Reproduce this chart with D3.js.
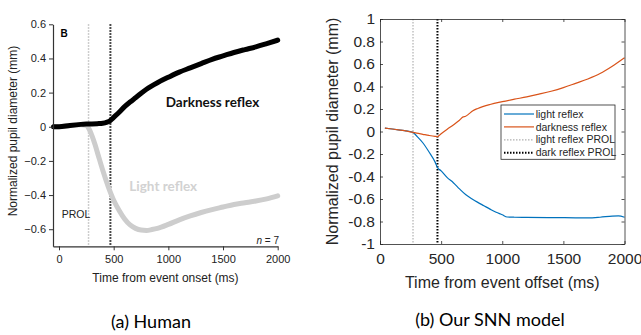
<!DOCTYPE html>
<html lang="en">
<head>
  <meta charset="utf-8">
  <title>Pupil reflex: human vs SNN</title>
  <script src="https://cdn.jsdelivr.net/npm/d3@7"></script>
  <style>
    body { margin: 0; background: #fff; }
  </style>
</head>
<body>
  <script>
    // PROL markers (ms)
    let lightProl = 270, darkProl = 470;

    // (a) human recordings
    let humanDarkTime = [-50, 0, 100, 200, 270, 350, 400, 440, 470, 500, 550, 600, 650, 700, 800, 900, 1000, 1100, 1200, 1300, 1400, 1500, 1600, 1700, 1800, 1900, 2000];
    let humanDarkVals = [0, 0, 0.008, 0.014, 0.016, 0.018, 0.02, 0.027, 0.037, 0.055, 0.085, 0.118, 0.145, 0.17, 0.22, 0.258, 0.29, 0.32, 0.345, 0.37, 0.395, 0.415, 0.435, 0.452, 0.468, 0.487, 0.507];
    let humanLightTime = [-50, 0, 100, 200, 250, 280, 300, 330, 360, 400, 450, 500, 550, 600, 650, 700, 750, 800, 850, 900, 1000, 1100, 1200, 1300, 1400, 1500, 1600, 1700, 1800, 1900, 2000];
    let humanLightVals = [0, 0, 0.008, 0.012, 0.008, -0.02, -0.05, -0.105, -0.17, -0.255, -0.35, -0.43, -0.49, -0.54, -0.575, -0.595, -0.605, -0.607, -0.602, -0.595, -0.572, -0.545, -0.522, -0.502, -0.485, -0.47, -0.455, -0.445, -0.435, -0.422, -0.405];

    // (b) SNN model
    let modelDarkTime = [40, 100, 150, 200, 270, 300, 350, 400, 450, 470, 500, 550, 600, 650, 680, 700, 720, 760, 800, 900, 1000, 1100, 1200, 1300, 1400, 1500, 1600, 1700, 1800, 1900, 2000];
    let modelDarkVals = [0.03, 0.022, 0.015, 0.008, -0.008, -0.015, -0.025, -0.035, -0.043, -0.045, -0.02, 0.02, 0.058, 0.1, 0.13, 0.135, 0.15, 0.185, 0.205, 0.24, 0.265, 0.287, 0.308, 0.332, 0.358, 0.39, 0.428, 0.467, 0.515, 0.58, 0.655];
    let modelLightTime = [40, 100, 150, 200, 270, 300, 350, 400, 450, 470, 500, 550, 600, 650, 700, 750, 800, 850, 900, 950, 1000, 1040, 1100, 1200, 1400, 1600, 1700, 1800, 1900, 1950, 2000];
    let modelLightVals = [0.03, 0.022, 0.015, 0.008, -0.008, -0.04, -0.1, -0.18, -0.27, -0.32, -0.35, -0.41, -0.455, -0.51, -0.56, -0.597, -0.63, -0.66, -0.69, -0.718, -0.74, -0.76, -0.762, -0.763, -0.765, -0.767, -0.768, -0.762, -0.752, -0.75, -0.762];

    let humanYTicks = [-0.6, -0.4, -0.2, 0, 0.2, 0.4, 0.6];
    let humanXTicks = [0, 500, 1000, 1500, 2000];
    let modelYTicks = [-1, -0.8, -0.6, -0.4, -0.2, 0, 0.2, 0.4, 0.6, 0.8, 1];
    let modelXTicks = [0, 500, 1000, 1500, 2000];
    let legendLabels = ["light reflex", "darkness reflex", "light reflex PROL", "dark reflex PROL"];

    let zip = (ts, vs) => ts.map((t, i) => ({ t: t, v: vs[i] }));

    let svg = d3.select("body").append("svg")
      .attr("width", 641).attr("height", 335)
      .style("font-family", "'Liberation Sans', Arial, sans-serif");

    // ---------- (a) Human ----------
    let xL = d3.scaleLinear().domain([-55, 2000]).range([53, 277.7]);
    let yL = d3.scaleLinear().domain([-0.7, 0.6]).range([246.3, 24.3]);
    let gA = svg.append("g");

    // PROL lines
    gA.append("line")
      .attr("x1", xL(lightProl)).attr("x2", xL(lightProl))
      .attr("y1", yL(0.6)).attr("y2", yL(-0.7))
      .attr("stroke", "#bdbdbd").attr("stroke-width", 1.5).attr("stroke-dasharray", "1.5,1.5");
    gA.append("line")
      .attr("x1", xL(darkProl)).attr("x2", xL(darkProl))
      .attr("y1", yL(0.6)).attr("y2", yL(-0.7))
      .attr("stroke", "#111").attr("stroke-width", 2).attr("stroke-dasharray", "1.5,1.5");

    let lineL = d3.line().x(d => xL(d.t)).y(d => yL(d.v)).curve(d3.curveMonotoneX);
    gA.append("path").datum(zip(humanLightTime, humanLightVals))
      .attr("d", lineL).attr("fill", "none")
      .attr("stroke", "#cdcdcd").attr("stroke-width", 5).attr("stroke-linecap", "round");
    gA.append("path").datum(zip(humanDarkTime, humanDarkVals))
      .attr("d", lineL).attr("fill", "none")
      .attr("stroke", "#000").attr("stroke-width", 5).attr("stroke-linecap", "round");

    // axes
    let fmtL = d => d === 0 ? "0" : d3.format(".1f")(d);
    gA.append("g").attr("transform", `translate(${xL.range()[0]},0)`)
      .call(d3.axisLeft(yL).tickValues(humanYTicks).tickFormat(fmtL).tickSize(4).tickSizeOuter(0).tickPadding(3));
    gA.append("g").attr("transform", `translate(0,${yL.range()[0]})`)
      .call(d3.axisBottom(xL).tickValues(humanXTicks).tickFormat(d3.format("d")).tickSize(4).tickSizeOuter(0).tickPadding(5));
    gA.selectAll(".tick text").style("font-size", "11px").attr("fill", "#222");
    gA.selectAll(".domain, .tick line").attr("stroke", "#333");
    gA.selectAll(".domain").attr("stroke-width", 1.2);

    gA.append("text").text("Time from event onset (ms)")
      .attr("x", 165.5).attr("y", 281.5).attr("text-anchor", "middle")
      .style("font-size", "12px").attr("fill", "#222");
    gA.append("text").text("Normalized pupil diameter (mm)")
      .attr("transform", `translate(13, 131) rotate(-90)`)
      .attr("text-anchor", "middle").attr("dominant-baseline", "central")
      .style("font-size", "12px").attr("fill", "#222");

    gA.append("text").text("B").attr("x", 60.5).attr("y", 36.7)
      .style("font-size", "10px").style("font-weight", "bold");
    gA.append("text").text("Darkness reflex").attr("x", 165.7).attr("y", 106.5)
      .style("font-family", "Lato, sans-serif").style("font-size", "13.5px").style("font-weight", "bold")
      .attr("fill", "#111");
    gA.append("text").text("Light reflex").attr("x", 129.3).attr("y", 190.5)
      .style("font-family", "Lato, sans-serif").style("font-size", "13.5px").style("font-weight", "bold")
      .attr("fill", "#d2d2d2");
    gA.append("text").text("PROL").attr("x", 61.7).attr("y", 218.3)
      .style("font-size", "10.5px").attr("fill", "#222");
    let nText = gA.append("text").attr("x", 279).attr("y", 244).attr("text-anchor", "end")
      .style("font-size", "10px").attr("fill", "#222");
    nText.append("tspan").text("n").style("font-style", "italic");
    nText.append("tspan").text(" = 7");

    // ---------- (b) SNN model ----------
    let xR = d3.scaleLinear().domain([0, 2000]).range([380, 624.5]);
    let yR = d3.scaleLinear().domain([-1, 1]).range([244, 19]);
    let gB = svg.append("g");

    gB.append("line")
      .attr("x1", xR(lightProl)).attr("x2", xR(lightProl))
      .attr("y1", yR(1)).attr("y2", yR(-1))
      .attr("stroke", "#b0b0b0").attr("stroke-width", 1.2).attr("stroke-dasharray", "1.5,1.5");
    gB.append("line")
      .attr("x1", xR(darkProl)).attr("x2", xR(darkProl))
      .attr("y1", yR(1)).attr("y2", yR(-1))
      .attr("stroke", "#000").attr("stroke-width", 2).attr("stroke-dasharray", "1.5,1.5");

    let lineR = d3.line().x(d => xR(d.t)).y(d => yR(d.v)).curve(d3.curveMonotoneX);
    gB.append("path").datum(zip(modelLightTime, modelLightVals))
      .attr("d", lineR).attr("fill", "none").attr("stroke", "#0072BD").attr("stroke-width", 1.2);
    gB.append("path").datum(zip(modelDarkTime, modelDarkVals))
      .attr("d", lineR).attr("fill", "none").attr("stroke", "#D95319").attr("stroke-width", 1.2);

    let fmtR = d => Number.isInteger(d) ? String(d) : d.toFixed(1);
    gB.append("g").attr("transform", `translate(${xR.range()[0]},0)`)
      .call(d3.axisLeft(yR).tickValues(modelYTicks).tickFormat(fmtR).tickSizeInner(-3).tickSizeOuter(0).tickPadding(5));
    gB.append("g").attr("transform", `translate(${xR.range()[1]},0)`)
      .call(d3.axisRight(yR).tickValues(modelYTicks).tickFormat("").tickSizeInner(-3).tickSizeOuter(0));
    gB.append("g").attr("transform", `translate(0,${yR.range()[0]})`)
      .call(d3.axisBottom(xR).tickValues(modelXTicks).tickFormat(d3.format("d")).tickSizeInner(-3).tickSizeOuter(0).tickPadding(9));
    gB.append("g").attr("transform", `translate(0,${yR.range()[1]})`)
      .call(d3.axisTop(xR).tickValues(modelXTicks).tickFormat("").tickSizeInner(-3).tickSizeOuter(0));
    gB.selectAll(".tick text").style("font-size", "15.5px").attr("fill", "#262626");
    gB.selectAll(".domain, .tick line").attr("stroke", "#262626").attr("stroke-width", 0.8);

    gB.append("text").text("Time from event offset (ms)")
      .attr("x", 502.3).attr("y", 287.5).attr("text-anchor", "middle")
      .style("font-size", "16px").attr("fill", "#262626");
    gB.append("text").text("Normalized pupil diameter (mm)")
      .attr("transform", `translate(332, 131.5) rotate(-90)`)
      .attr("text-anchor", "middle").attr("dominant-baseline", "central")
      .style("font-size", "16px").attr("fill", "#262626");

    // legend
    let leg = gB.append("g").attr("transform", "translate(501,105)");
    leg.append("rect").attr("width", 114).attr("height", 54.3)
      .attr("fill", "#fff").attr("stroke", "#262626").attr("stroke-width", 0.8);
    let legStyles = [
      { stroke: "#0072BD", width: 1.2, dash: null },
      { stroke: "#D95319", width: 1.2, dash: null },
      { stroke: "#b0b0b0", width: 1.2, dash: "1.5,1.5" },
      { stroke: "#000", width: 2, dash: "1.5,1.5" }
    ];
    let legRows = leg.selectAll(".row").data(legendLabels).join("g")
      .attr("transform", (d, i) => `translate(0,${9 + i * 12.9})`);
    legRows.append("line").attr("x1", 3).attr("x2", 33)
      .attr("stroke", (d, i) => legStyles[i].stroke)
      .attr("stroke-width", (d, i) => legStyles[i].width)
      .attr("stroke-dasharray", (d, i) => legStyles[i].dash);
    legRows.append("text").text(d => d).attr("x", 34.7).attr("dy", "0.35em")
      .style("font-size", "10.5px").attr("fill", "#262626");

    // captions
    svg.append("text").text("(a) Human").attr("x", 151).attr("y", 327.5)
      .attr("text-anchor", "middle").style("font-family", "Lato, sans-serif").style("font-size", "18px");
    svg.append("text").text("(b) Our SNN model").attr("x", 490).attr("y", 326)
      .attr("text-anchor", "middle").style("font-family", "Lato, sans-serif").style("font-size", "18px");
  </script>
</body>
</html>
